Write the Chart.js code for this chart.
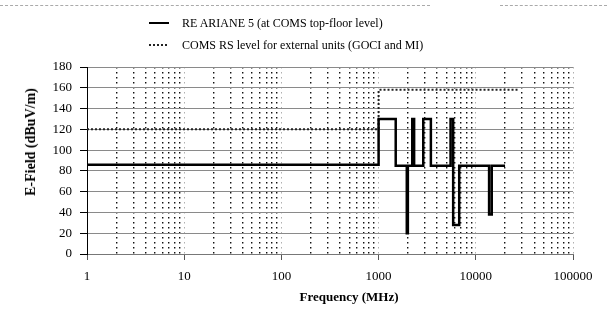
<!DOCTYPE html>
<html>
<head>
<meta charset="utf-8">
<script src="https://cdn.jsdelivr.net/npm/chart.js@4.4.0/dist/chart.umd.min.js"></script>
<style>
  html, body { margin: 0; padding: 0; background: #fff; }
  #wrap { position: relative; width: 607px; height: 313px; overflow: hidden;
          font-family: "Liberation Serif", "Times New Roman", serif; color: #000; }
  #chart { position: absolute; left: 0; top: 0; }
  .lg { position: absolute; left: 182px; font-size: 12px; line-height: 16px; height: 16px; white-space: nowrap; }
  .sw { position: absolute; left: 149px; width: 20px; }
  .sw.solid { height: 2px; background: #000; }
  .sw.dot { height: 2px; background: repeating-linear-gradient(to right, #222 0 2px, transparent 2px 4px); }
  #ytitle { position: absolute; left: 31px; top: 142px; transform: translate(-50%, -50%) rotate(-90deg);
            font-weight: bold; font-size: 14px; white-space: nowrap; line-height: 16px; }
  #xtitle { position: absolute; left: 349px; top: 297px; transform: translate(-50%, -50%);
            font-weight: bold; font-size: 13px; white-space: nowrap; line-height: 16px; }
  .frame { position: absolute; height: 0; border-top: 1px dashed #aaa; top: 5px; }
</style>
</head>
<body>
<div id="wrap">
  <canvas id="chart" width="607" height="313"></canvas>
  <div class="frame" style="left:0;width:430px;"></div>
  <div class="frame" style="left:500px;width:107px;"></div>
  <div class="sw solid" style="top:22px;"></div>
  <div class="lg" id="lg0" style="top:15px;"></div>
  <div class="sw dot" style="top:44px;"></div>
  <div class="lg" id="lg1" style="top:37px;"></div>
  <div id="ytitle"></div>
  <div id="xtitle"></div>
</div>
<script>
// ---- data ----
const seriesNames = ['RE ARIANE 5 (at COMS top-floor level)', 'COMS RS level for external units (GOCI and MI)'];
const reFreq  = [1, 1000, 1000, 1500, 1500, 1950, 1950, 2000, 2000, 2220, 2220, 2320, 2320, 2880, 2880, 3450, 3450, 5500, 5500, 5850, 5850, 6750, 6750, 13700, 13700, 14600, 14600, 20000];
const reLevel = [86,   86,  130,  130,   85,   85,   20,   20,   85,   85,  130,  130,   85,   85,  130,  130,   85,   85,  130,  130,   28,   28,   85,    85,    38,    38,    85,    85];
const rsFreq  = [1, 1000, 1000, 28000];
const rsLevel = [120, 120, 158, 158];
const xTickValues = [1, 10, 100, 1000, 10000, 100000];
const xTickLabels = ['1', '10', '100', '1000', '10000', '100000'];
const minorMultipliers = [2, 3, 4, 5, 6, 7, 8, 9];
const yTickValues = [0, 20, 40, 60, 80, 100, 120, 140, 160, 180];
const xTitle = 'Frequency (MHz)';
const yTitle = 'E-Field (dBuV/m)';

// ---- text ----
document.getElementById('lg0').textContent = seriesNames[0];
document.getElementById('lg1').textContent = seriesNames[1];
document.getElementById('xtitle').textContent = xTitle;
document.getElementById('ytitle').textContent = yTitle;

// grid positions on the log axis (decades + minor multiples)
const gridValues = [];
xTickValues.forEach((d, i) => {
  gridValues.push(d);
  if (i < xTickValues.length - 1) minorMultipliers.forEach(m => gridValues.push(d * m));
});
const isDecade = v => xTickValues.includes(v);

const FONT = '"Liberation Serif", "Times New Roman", serif';

new Chart(document.getElementById('chart'), {
  type: 'line',
  data: {
    datasets: [
      {
        label: seriesNames[0],
        data: reFreq.map((f, i) => ({ x: f, y: reLevel[i] })),
        borderColor: '#000', borderWidth: 2.5, pointRadius: 0, fill: false, tension: 0
      },
      {
        label: seriesNames[1],
        data: rsFreq.map((f, i) => ({ x: f, y: rsLevel[i] })),
        borderColor: '#222', borderWidth: 2, borderDash: [2, 2], pointRadius: 0, fill: false, tension: 0
      }
    ]
  },
  options: {
    responsive: false,
    devicePixelRatio: 1,
    animation: false,
    layout: { padding: { top: 67, right: 34, bottom: 0, left: 0 } },
    plugins: { legend: { display: false }, tooltip: { enabled: false } },
    scales: {
      x: {
        type: 'logarithmic', min: 1, max: 100000,
        afterBuildTicks: s => { s.ticks = gridValues.map(v => ({ value: v, major: isDecade(v) })); },
        afterFit: s => { s.height = 59; },
        ticks: {
          autoSkip: false, maxRotation: 0, minRotation: 0, padding: 9, color: '#000',
          font: { family: FONT, size: 13 },
          callback: v => { const i = xTickValues.indexOf(v); return i >= 0 ? xTickLabels[i] : ''; }
        },
        grid: {
          color: c => (c.tick && isDecade(c.tick.value)) ? '#b0b0b0' : '#111',
          lineWidth: c => (c.tick && isDecade(c.tick.value)) ? 1 : 1.4,
          tickLength: 6,
          tickColor: c => (c.tick && isDecade(c.tick.value)) ? '#555' : 'rgba(0,0,0,0)',
          tickBorderDash: []
        },
        border: { display: true, color: '#777', width: 1, dash: [1.5, 3.5] }
      },
      y: {
        min: 0, max: 180,
        afterBuildTicks: s => { s.ticks = yTickValues.map(v => ({ value: v })); },
        afterFit: s => { s.width = 87; },
        ticks: { padding: 8, color: '#000', font: { family: FONT, size: 13 }, callback: v => String(v) },
        grid: { color: '#8a8a8a', lineWidth: 1, tickLength: 7, tickColor: '#000' },
        border: { display: true, color: '#000', width: 1 }
      }
    }
  }
});
</script>
</body>
</html>
